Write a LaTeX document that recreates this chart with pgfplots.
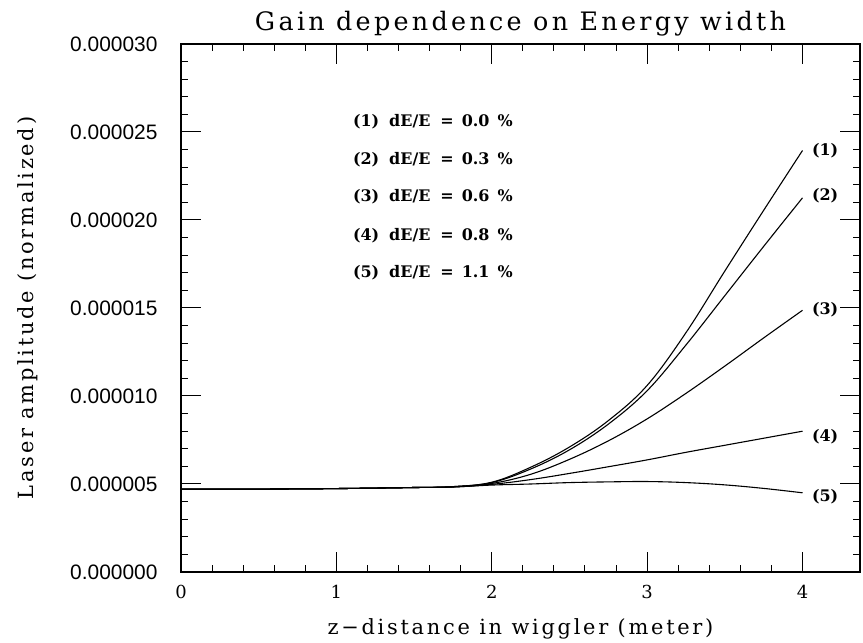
\documentclass[border=0pt]{standalone}
\usepackage{pgfplots}
\pgfplotsset{compat=1.18}
\usepackage{fontspec}
\setmainfont{DejaVu Serif}
\newfontfamily\lblfont[LetterSpace=13]{DejaVu Serif}
\newfontfamily\ytfont{Liberation Sans}
\newfontfamily\legfont{DejaVu Serif}

\begin{document}
\begin{tikzpicture}[curve/.style={black, line width=1.1bp, smooth, tension=0.6, mark=none}]
\useasboundingbox (0,0) rectangle (863bp,643bp);
\begin{axis}[
  at={(181bp,71bp)}, anchor=south west,
  scale only axis,
  width=679bp, height=528bp,
  xmin=0, xmax=4.37,
  ymin=0, ymax=30,
  axis line style={line width=1.2bp},
  xtick={0,1,2,3,4},
  xticklabels={0,1,2,3,4},
  minor x tick num=4,
  ytick={0,5,10,15,20,25,30},
  yticklabels={0.000000,0.000005,0.000010,0.000015,0.000020,0.000025,0.000030},
  minor y tick num=4,
  major tick length=20bp,
  minor tick length=7bp,
  tick style={line width=1bp, black},
  yticklabel style={font=\ytfont\fontsize{21}{21}\selectfont, xshift=-20bp},
  xticklabel style={font=\fontsize{18}{18}\selectfont, yshift=-10bp},
  title={\lblfont\fontsize{25.5}{26}\selectfont Gain dependence on Energy width},
  title style={at={(axis description cs:0.5,1)}, anchor=base, yshift=8bp},
  xlabel={\lblfont\fontsize{21}{21}\selectfont z−distance in wiggler (meter)},
  xlabel style={at={(axis description cs:0.5,0)}, anchor=base, yshift=-62bp},
  ylabel={\lblfont\fontsize{21}{21}\selectfont Laser amplitude (normalized)},
  ylabel style={at={(axis description cs:-0.225,0.5)}, anchor=center},
]
% (1) dE/E = 0.0 %
\addplot[curve] coordinates {(0,4.70) (0.5,4.71) (1,4.74) (1.5,4.80) (1.75,4.85) (2,5.10)
  (2.25,5.95) (2.5,7.1) (2.75,8.6) (3,10.6) (3.25,13.6) (3.5,17.1) (3.75,20.55) (4,23.95)};
% (2) dE/E = 0.3 %
\addplot[curve] coordinates {(0,4.70) (0.5,4.71) (1,4.74) (1.5,4.80) (1.75,4.85) (2,5.08)
  (2.25,5.85) (2.5,6.94) (2.75,8.4) (3,10.3) (3.25,12.9) (3.5,15.7) (3.75,18.5) (4,21.26)};
% (3) dE/E = 0.6 %
\addplot[curve] coordinates {(0,4.70) (0.5,4.71) (1,4.74) (1.5,4.80) (1.75,4.84) (2,5.03)
  (2.25,5.55) (2.5,6.4) (2.75,7.45) (3,8.7) (3.25,10.15) (3.5,11.7) (3.75,13.3) (4,14.87)};
% (4) dE/E = 0.8 %
\addplot[curve] coordinates {(0,4.70) (0.5,4.71) (1,4.74) (1.5,4.80) (1.75,4.83) (2,4.98)
  (2.25,5.25) (2.5,5.6) (2.75,5.98) (3,6.37) (3.25,6.8) (3.5,7.2) (3.75,7.6) (4,8.0)};
% (5) dE/E = 1.1 %
\addplot[curve] coordinates {(0,4.70) (0.5,4.71) (1,4.74) (1.5,4.80) (1.75,4.83) (2,4.94)
  (2.25,5.0) (2.5,5.08) (2.75,5.12) (3,5.14) (3.25,5.08) (3.5,4.95) (3.75,4.75) (4,4.5)};

% legend text
\begin{scope}[every node/.style={anchor=west, inner sep=0pt, font=\legfont\bfseries\fontsize{16}{16}\selectfont}]
\node at (axis cs:1.106,25.6) {(1)\hspace{10bp}dE/E\hspace{10bp}=\hspace{8bp}0.0\hspace{8bp}\%};
\node at (axis cs:1.106,23.45) {(2)\hspace{10bp}dE/E\hspace{10bp}=\hspace{8bp}0.3\hspace{8bp}\%};
\node at (axis cs:1.106,21.3) {(3)\hspace{10bp}dE/E\hspace{10bp}=\hspace{8bp}0.6\hspace{8bp}\%};
\node at (axis cs:1.106,19.1) {(4)\hspace{10bp}dE/E\hspace{10bp}=\hspace{8bp}0.8\hspace{8bp}\%};
\node at (axis cs:1.106,17.0) {(5)\hspace{10bp}dE/E\hspace{10bp}=\hspace{8bp}1.1\hspace{8bp}\%};
% curve labels
\node at (axis cs:4.06,23.95) {(1)};
\node at (axis cs:4.06,21.4) {(2)};
\node at (axis cs:4.06,14.9) {(3)};
\node at (axis cs:4.06,7.67) {(4)};
\node at (axis cs:4.06,4.3) {(5)};
\end{scope}
\end{axis}
\end{tikzpicture}
\end{document}
